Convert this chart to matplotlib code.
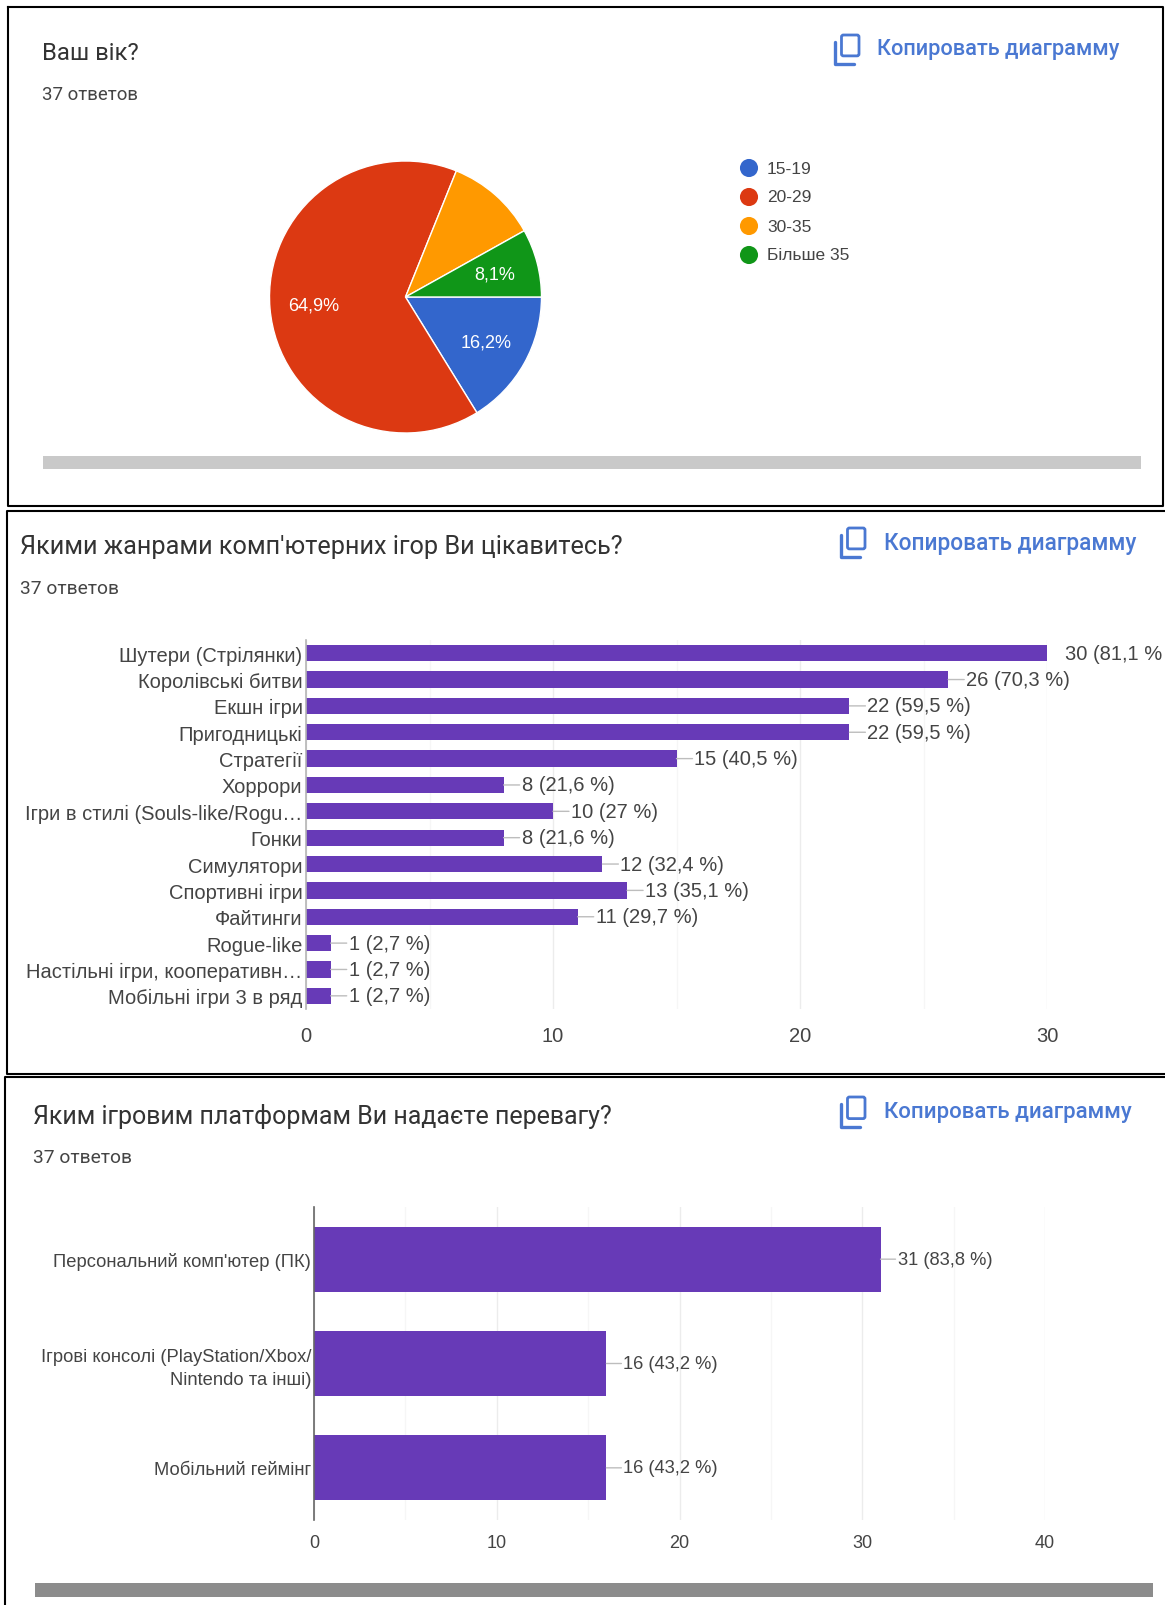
import matplotlib
matplotlib.use('Agg')
import matplotlib.pyplot as plt
from matplotlib.patches import FancyBboxPatch, Rectangle
from matplotlib.transforms import Bbox

W, H = 1165, 1606
plt.rcParams['font.family'] = ['Liberation Sans', 'DejaVu Sans']

# age question
age_groups = ['15-19', '20-29', '30-35', 'Більше 35']
age_pct = [16.2, 64.9, 10.8, 8.1]
age_pct_labels = ['16,2%', '64,9%', '', '8,1%']
age_colors = ['#3366cc', '#dc3912', '#ff9900', '#109618']

# genre question
genres = ['Шутери (Стрілянки)', 'Королівські битви', 'Екшн ігри', 'Пригодницькі',
          'Стратегії', 'Хоррори', 'Ігри в стилі (Souls-like/Rogu…', 'Гонки',
          'Симулятори', 'Спортивні ігри', 'Файтинги', 'Rogue-like',
          'Настільні ігри, кооперативн…', 'Мобільні ігри 3 в ряд']
genre_counts = [30, 26, 22, 22, 15, 8, 10, 8, 12, 13, 11, 1, 1, 1]
genre_pct = ['81,1', '70,3', '59,5', '59,5', '40,5', '21,6', '27', '21,6',
             '32,4', '35,1', '29,7', '2,7', '2,7', '2,7']

# platform question
platforms = ['Персональний комп\'ютер (ПК)', 'Ігрові консолі (PlayStation/Xbox/\nNintendo та інші)',
             'Мобільний геймінг']
platform_counts = [31, 16, 16]
platform_pct = ['83,8', '43,2', '43,2']

TEXT = '#444444'
BLUE = '#4a78d2'
PURPLE = '#673ab7'

fig = plt.figure(figsize=(W / 100, H / 100), dpi=100, facecolor='white')


def px_axes(left, top, right, bottom):
    # axes placed by pixel box, y counted from the top of the figure
    return fig.add_axes([left / W, 1 - bottom / H, (right - left) / W, (bottom - top) / H])


bg = px_axes(0, 0, W, H)
bg.set_xlim(0, W)
bg.set_ylim(H, 0)
bg.axis('off')


def frame_line(xs, ys):
    bg.plot(xs, ys, color='black', lw=1.5, solid_capstyle='projecting')


frame_line([8, 1163, 1163, 8, 8], [8, 8, 507, 507, 8])
frame_line([1165, 7, 7, 1165], [512, 512, 1075, 1075])
frame_line([1165, 5, 5], [1078, 1078, 1606])


def copy_button(x0, y0, x1, y1, text_x, text_y, size):
    # two overlapping sheets, the back one only shown as an L
    mid = x0 + (x1 - x0) * 0.27
    bg.add_patch(FancyBboxPatch((mid, y0), x1 - mid, (y1 - y0) * 0.72, boxstyle='round,pad=0,rounding_size=2',
                                fc='none', ec=BLUE, lw=2))
    bg.plot([x0, x0, x1 - 5], [y0 + 7, y1, y1], color=BLUE, lw=2.4, solid_capstyle='round')
    bg.text(text_x, text_y, 'Копировать диаграмму', color=BLUE, fontsize=size, va='center',
            family=['Roboto', 'DejaVu Sans'], fontweight='medium')


def header(x, y_title, y_sub, title, size, sub_size):
    bg.text(x, y_title, title, color='#333333', fontsize=size, va='center', family=['Roboto', 'DejaVu Sans'])
    bg.text(x, y_sub, '37 ответов', color=TEXT, fontsize=sub_size, va='center', family=['Roboto', 'DejaVu Sans'])


header(42, 53, 95, 'Ваш вік?', 17.2, 13.4)
copy_button(835, 36, 859, 65, 877, 50, 15.7)
header(20, 547, 589, 'Якими жанрами комп\'ютерних ігор Ви цікавитесь?', 18.2, 13.8)
copy_button(841, 529, 865, 558, 884, 544, 16.3)
header(33, 1117, 1158, 'Яким ігровим платформам Ви надаєте перевагу?', 18, 13.8)
copy_button(841, 1098, 865, 1128, 884, 1113, 16)

# grey scrollbars
bg.add_patch(Rectangle((43, 457), 1098, 13, fc='#c9c9c9', ec='none'))
bg.add_patch(Rectangle((35, 1584), 1118, 14, fc='#8c8c8c', ec='none'))

# pie
ax_pie = px_axes(405.5 - 136, 298 - 136, 405.5 + 136, 298 + 136)
wedges, _, autotexts = ax_pie.pie(age_pct, colors=age_colors, startangle=0, counterclock=False,
                                  radius=1, autopct='%.1f', pctdistance=0.68,
                                  wedgeprops={'edgecolor': 'white', 'linewidth': 1})
for t, label in zip(autotexts, age_pct_labels):
    t.set_text(label)
    t.set_color('white')
    t.set_fontsize(13)
ax_pie.set_xlim(-1, 1)
ax_pie.set_ylim(-1, 1)

for i, (name, col) in enumerate(zip(age_groups, age_colors)):
    y = 169 + i * 29
    bg.scatter([749], [y], s=170, color=col, edgecolor='none')
    bg.text(767, y, name, color=TEXT, fontsize=12.5, va='center')


def bar_panel(box, names, counts, pct, xmax, bar_h, label_size, tick_size, tick_pad, axis_color, x_pad, label_off):
    ax = px_axes(*box)
    ypos = list(range(len(names)))
    ax.set_axisbelow(True)
    ax.barh(ypos, counts, height=bar_h, color=PURPLE)
    ax.set_xlim(0, xmax)
    ax.set_ylim(len(names) - 0.5, -0.5)
    ax.patch.set_visible(False)
    for s in ['top', 'right', 'bottom']:
        ax.spines[s].set_visible(False)
    ax.spines['left'].set_color(axis_color)
    ax.spines['left'].set_linewidth(1.2)
    ax.set_xticks(range(0, xmax + 1, 10))
    ax.set_xticks(range(5, xmax, 10), minor=True)
    ax.grid(axis='x', which='major', color='#ececec', lw=1)
    ax.grid(axis='x', which='minor', color='#f6f6f6', lw=1)
    ax.set_yticks(ypos)
    ax.set_yticklabels(names, linespacing=1.4)
    ax.tick_params(axis='y', length=0, pad=tick_pad, labelsize=label_size, labelcolor=TEXT)
    ax.tick_params(axis='x', which='both', length=0, pad=x_pad, labelsize=tick_size, labelcolor=TEXT)
    for y, v, p in zip(ypos, counts, pct):
        t = ax.annotate(f'{v} ({p} %)', (v, y), xytext=(label_off, 0), textcoords='offset pixels',
                        va='center', ha='left', color=TEXT, fontsize=label_size, annotation_clip=False)
        t.set_clip_on(True)
        t.set_clip_box(Bbox.from_extents(0, 0, 1162, H))
        # leader from the bar end to the label, the longest bar has none
        if v < ax.get_xlim()[1]:
            ax.annotate('', (v, y), xytext=(label_off - 2, 0), textcoords='offset pixels',
                        arrowprops={'arrowstyle': '-', 'color': '#bdbdbd', 'lw': 1, 'shrinkA': 0, 'shrinkB': 0})
    return ax


bar_panel((306, 641, 1047, 1010), genres, genre_counts, genre_pct, 30, 0.62, 14.5, 14.5, 2.5, '#b5b5b5', 12, 18)
bar_panel((314, 1208, 1045, 1521), platforms, platform_counts, platform_pct, 40, 0.62, 13.2, 13, 2, '#666666', 10, 17)

fig.savefig('out.png', dpi=100)
